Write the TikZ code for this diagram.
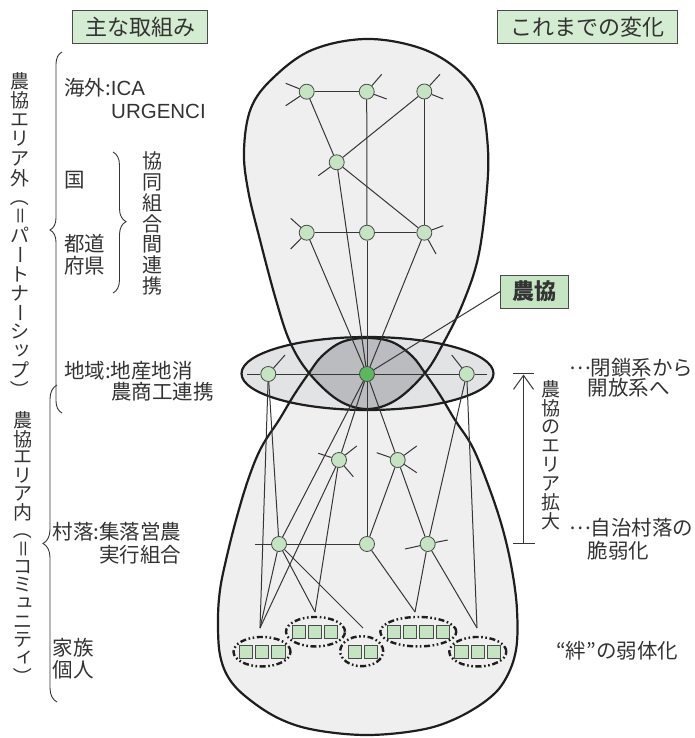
\documentclass[tikz,border=0pt]{standalone}
\usepackage{fontspec}
\usepackage{graphicx}
\usetikzlibrary{shapes.geometric,decorations.pathreplacing,arrows.meta}
\newfontfamily\jp{Noto Sans CJK JP}
\newfontfamily\lat{Liberation Sans}
\definecolor{outl}{HTML}{1E1E1E}
\definecolor{edg}{HTML}{363636}
\definecolor{txt}{HTML}{333333}
\definecolor{balf}{HTML}{EFEFEF}
\definecolor{ringf}{HTML}{E2E3E5}
\definecolor{lensf}{HTML}{BBBCBF}
\definecolor{ndg}{HTML}{C4E4C2}
\definecolor{ndb}{HTML}{4A4A4A}
\definecolor{ndc}{HTML}{5CB85F}
\definecolor{hdrg}{HTML}{D4ECD1}
\definecolor{lblg}{HTML}{C6E5C3}
\newcommand\rv[1]{\rotatebox[origin=c]{-90}{\vphantom{国}#1}}
\newcommand\sk[1]{\makebox[1em]{\raisebox{0.14em}{\hspace{0.2em}#1}}}
\newcommand\fw[1]{{\addfontfeatures{CharacterWidth=Full}#1}}
\begin{document}
\begin{tikzpicture}[x=1pt,y=-1pt,
  ed/.style={line width=1pt, draw=edg},
  bal/.style={line width=2.2pt, draw=outl},
  nd/.style={circle, draw=ndb, fill=ndg, line width=0.8pt, minimum size=15pt, inner sep=0pt},
  sq/.style={rectangle, draw=ndb, fill=ndg, line width=1pt, minimum size=13.3pt, inner sep=0pt},
  grp/.style={ellipse, draw=outl, line width=2.4pt, dash pattern=on 6pt off 2.6pt on 1.6pt off 2.6pt on 1.6pt off 2.6pt, inner sep=0pt, minimum height=29.5pt},
  lbl/.style={font=\jp\fontsize{20.5}{22}\selectfont, text=txt, inner sep=0pt, anchor=west, align=left},
  vt/.style={font=\jp\fontsize{19}{19}\selectfont, text=txt, inner sep=0pt},
  hdr/.style={draw=ndb, fill=hdrg, line width=0.8pt, font=\jp\fontsize{22}{24}\selectfont, text=txt, inner sep=0pt, minimum height=33.3pt},
  brc/.style={decorate, draw=edg, line width=0.9pt}]
\useasboundingbox (0,0) rectangle (694,738);

% balloons fill
\fill[balf] plot[smooth cycle, tension=0.6] coordinates {(366,39) (420,48) (458,70) (480,100) (488,150) (486,200) (478,258) (463,303) (444,342) (425,373) (396,400) (367,409) (338,400) (309,373) (290,342) (276,300) (260,240) (248,190) (244,150) (251,108) (273,78) (312,50)};
\fill[balf] plot[smooth cycle, tension=0.6] coordinates {(367,338) (392,342) (412,356) (425,373) (440,395) (455,420) (473,448) (490,490) (503,530) (512,570) (517,610) (516,650) (505,680) (487,700) (455,719) (420,730) (367,735) (315,730) (280,719) (250,700) (230,680) (220,655) (218,620) (220,590) (226,560) (236,520) (248,480) (261,448) (279,420) (294,395) (309,373) (322,356) (342,342)};
% ring
\fill[ringf] (367.5,373.5) ellipse [x radius=126, y radius=36.5];
% lens
\begin{scope}
\clip plot[smooth cycle, tension=0.6] coordinates {(366,39) (420,48) (458,70) (480,100) (488,150) (486,200) (478,258) (463,303) (444,342) (425,373) (396,400) (367,409) (338,400) (309,373) (290,342) (276,300) (260,240) (248,190) (244,150) (251,108) (273,78) (312,50)};
\fill[lensf] plot[smooth cycle, tension=0.6] coordinates {(367,338) (392,342) (412,356) (425,373) (440,395) (455,420) (473,448) (490,490) (503,530) (512,570) (517,610) (516,650) (505,680) (487,700) (455,719) (420,730) (367,735) (315,730) (280,719) (250,700) (230,680) (220,655) (218,620) (220,590) (226,560) (236,520) (248,480) (261,448) (279,420) (294,395) (309,373) (322,356) (342,342)};
\end{scope}
\draw[bal] (367.5,373.5) ellipse [x radius=126, y radius=36.5];
\draw[bal] plot[smooth cycle, tension=0.6] coordinates {(366,39) (420,48) (458,70) (480,100) (488,150) (486,200) (478,258) (463,303) (444,342) (425,373) (396,400) (367,409) (338,400) (309,373) (290,342) (276,300) (260,240) (248,190) (244,150) (251,108) (273,78) (312,50)};
\draw[bal] plot[smooth cycle, tension=0.6] coordinates {(367,338) (392,342) (412,356) (425,373) (440,395) (455,420) (473,448) (490,490) (503,530) (512,570) (517,610) (516,650) (505,680) (487,700) (455,719) (420,730) (367,735) (315,730) (280,719) (250,700) (230,680) (220,655) (218,620) (220,590) (226,560) (236,520) (248,480) (261,448) (279,420) (294,395) (309,373) (322,356) (342,342)};

% nodes
\node[nd] (A1) at (306.7,91.7) {};
\node[nd] (A2) at (366.7,91.7) {};
\node[nd] (A3) at (424.3,91.5) {};
\node[nd] (B) at (336.7,162.3) {};
\node[nd] (C1) at (306.7,232.7) {};
\node[nd] (C2) at (367,232.7) {};
\node[nd] (C3) at (424.3,232.7) {};
\node[nd, fill=ndc] (X) at (367,374) {};
\node[nd] (L) at (268.3,374) {};
\node[nd] (R) at (466.7,374) {};
\node[nd] (D1) at (339,460) {};
\node[nd] (D2) at (397.7,460) {};
\node[nd] (E1) at (279,544) {};
\node[nd] (E2) at (367,544) {};
\node[nd] (E3) at (427.7,544) {};

% stub ends
\coordinate (sA1a) at (285.7,83.3); \coordinate (sA1b) at (285.7,105.7);
\coordinate (sA2a) at (381.7,74.3); \coordinate (sA2b) at (386.7,99);
\coordinate (sA3a) at (440,74.3); \coordinate (sA3b) at (443.3,99);
\coordinate (sB) at (318.3,175.7);
\coordinate (sC1a) at (290.7,218.3); \coordinate (sC1b) at (290.7,249);
\coordinate (sC3a) at (443.3,225.7); \coordinate (sC3b) at (436,254);
\coordinate (sLa) at (247,374); \coordinate (sLb) at (285,355);
\coordinate (sRa) at (487,374); \coordinate (sRb) at (451.7,355);
\coordinate (sD1a) at (318.3,453.3); \coordinate (sD1b) at (356.7,446); \coordinate (sD1c) at (353.3,476.7);
\coordinate (sD2a) at (376.7,452.7); \coordinate (sD2b) at (416.7,446); \coordinate (sD2c) at (416.7,472.7);
\coordinate (sE1) at (255,544);
\coordinate (sE3a) at (405,549); \coordinate (sE3b) at (447.7,540);
\foreach \n/\s in {A1/sA1a,A1/sA1b,A2/sA2a,A2/sA2b,A3/sA3a,A3/sA3b,B/sB,C1/sC1a,C1/sC1b,C3/sC3a,C3/sC3b,L/sLa,L/sLb,R/sRa,R/sRb,D1/sD1a,D1/sD1b,D1/sD1c,D2/sD2a,D2/sD2b,D2/sD2c,E1/sE1,E3/sE3a,E3/sE3b}
  \draw[ed] (\n) -- (\s);

% group anchors
\coordinate (g1a) at (260,628);
\coordinate (g2a) at (315,612);
\coordinate (g3a) at (363,628);
\coordinate (g4a) at (415,612);
\coordinate (g5a) at (477,628);

% label
\node[hdr, fill=lblg, minimum width=67.3pt, minimum height=33pt, font=\jp\bfseries\fontsize{22}{24}\selectfont] (nk) at (534.3,291.5) {農協};

% edges
\foreach \a/\b in {A1/A2,A1/B,A2/C2,A3/B,A3/C3,B/C3,B/X,C1/C2,C2/C3,C1/X,C2/X,C3/X,L/X,X/R,X/D1,X/D2,X/E1,X/E2,L/E1,L/g1a,R/E3,R/g5a,D1/g1a,D1/g2a,D2/E2,D2/E3,E1/E2,E1/g1a,E1/g2a,E1/g3a,E2/g4a,E3/g4a,E3/g5a}
  \draw[ed] (\a) -- (\b);
\draw[ed] (X) -- (nk.west);

% groups
\node[grp, minimum width=57pt] (g1) at (262,651.7) {};
\node[grp, minimum width=59pt] (g2) at (315.5,631.7) {};
\node[grp, minimum width=43pt, minimum height=30pt] (g3) at (361.7,651.2) {};
\node[grp, minimum width=76pt] (g4) at (418.3,631.7) {};
\node[grp, minimum width=57pt] (g5) at (477.8,651.7) {};
\foreach \x [count=\i] in {245.8,262.1,278.4} \node[sq] (q1\i) at (\x,651.7) {};
\foreach \x [count=\i] in {298.7,315,331.3} \node[sq] (q2\i) at (\x,631.7) {};
\foreach \x [count=\i] in {354.85,371.15} \node[sq] (q3\i) at (\x,651.7) {};
\foreach \x [count=\i] in {393.9,410.2,426.5,442.8} \node[sq] (q4\i) at (\x,631.7) {};
\foreach \x [count=\i] in {461.4,477.7,494} \node[sq] (q5\i) at (\x,651.7) {};

% headers
\node[hdr, minimum width=134.6pt] (h1) at (140,26.7) {主な取組み};
\node[hdr, minimum width=180pt] (h2) at (587.3,26.7) {これまでの変化};

% braces
\draw[brc, decoration={brace, amplitude=12pt, aspect=0.507}] (62,413) -- (62,52);
\draw[brc, decoration={brace, amplitude=14pt, aspect=0.5}] (57,702) -- (57,385);
\draw[brc, decoration={brace, amplitude=13pt, aspect=0.494}] (113,152) -- (113,293);

% vertical texts
\foreach \c [count=\i] in {農,協,エ,リ,ア,外,\rv{（},\rv{＝},パ,\rv{ー},ト,ナ,\rv{ー},シ,\sk{ッ},プ,\rv{）}}
  \node[vt] (va\i) at (20,{81.3+(\i-1)*19.3}) {\vphantom{国}\c};
\foreach \c [count=\i] in {農,協,エ,リ,ア,内,\rv{（},\rv{＝},コ,ミ,\sk{ュ},ニ,テ,\sk{ィ},\rv{）}}
  \node[vt] (vb\i) at (23,{420.5+(\i-1)*18.3}) {\vphantom{国}\c};
\foreach \c [count=\i] in {協,同,組,合,間,連,携}
  \node[vt, font=\jp\fontsize{20}{20}\selectfont] (vc\i) at (152.5,{161.3+(\i-1)*20.8}) {\vphantom{国}\c};
\foreach \c [count=\i] in {農,協,の,エ,リ,ア,拡,大}
  \node[vt] (vd\i) at (551,{389+(\i-1)*18.9}) {\vphantom{国}\c};

% left labels
\node[lbl] (t1) at (64,88) {海外:{\lat ICA}};
\node[lbl, font=\lat\fontsize{20.5}{22}\selectfont] (t2) at (111,111) {URGENCI};
\node[lbl] (t3) at (64,180) {国};
\node[lbl] (t4) at (64,255) {都道\\府県};
\node[lbl] (t5) at (64,371) {地域:地産地消};
\node[lbl] (t6) at (111,392) {農商工連携};
\node[lbl] (t7) at (52.5,531.7) {村落:集落営農};
\node[lbl] (t8) at (99,555) {実行組合};
\node[lbl] (t9) at (52.5,658.3) {家族\\個人};
% right labels
\node[lbl] (t10) at (569,368) {\raisebox{0.3em}{\fw{…}}閉鎖系から};
\node[lbl] (t11) at (587.5,388) {開放系へ};
\node[lbl] (t12) at (569,528) {\raisebox{0.3em}{\fw{…}}自治村落の};
\node[lbl] (t13) at (587.5,551) {脆弱化};
\node[lbl] (t14) at (556,651) {“絆”の弱体化};

% expansion arrow
\coordinate (art) at (523.5,373.3);
\coordinate (arb) at (523.5,543.3);
\draw[ed] (513.3,373.3) -- (art) -- (534,373.3);
\draw[ed] (513.3,543.3) -- (arb) -- (535,543.3);
\draw[ed, -{Straight Barb[length=14pt, width=20pt]}] (arb) -- (523.5,374.5);
\end{tikzpicture}
\end{document}
